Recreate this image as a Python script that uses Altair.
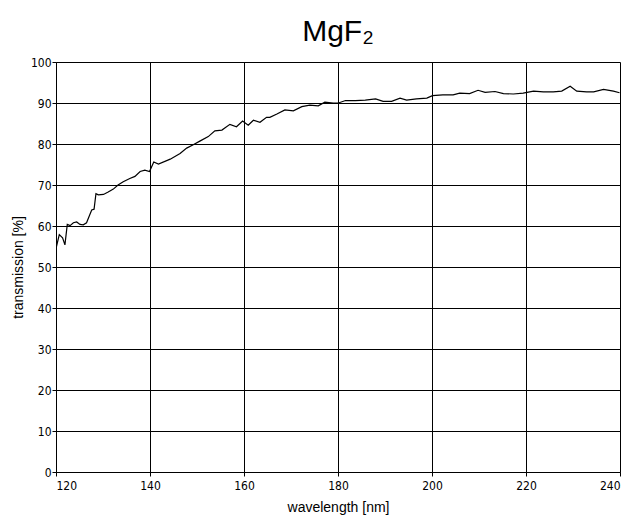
import altair as alt
import pandas as pd

wavelength = [120.1, 120.7, 121.4, 121.9, 122.4, 123.0, 123.7, 124.4, 125.1, 125.8, 126.5, 127.1,
              127.6, 128.1, 128.5, 129.0, 130.1, 131.1, 132.2, 133.2, 134.3, 135.7, 136.8, 137.9,
              138.9, 139.9, 140.8, 141.8, 144.3, 146.4, 147.8, 149.2, 150.6, 152.4, 153.8, 155.3,
              157.0, 158.4, 159.7, 160.9, 162.0, 163.4, 164.8, 165.5, 167.0, 168.7, 170.5, 172.3,
              174.0, 175.8, 177.2, 179.0, 180.1, 181.6, 183.7, 185.8, 188.0, 189.6, 191.4, 193.2,
              194.6, 196.7, 198.9, 200.1, 202.3, 204.5, 205.9, 208.0, 209.8, 211.3, 213.4, 215.2,
              217.3, 219.4, 221.6, 223.7, 225.8, 227.6, 229.4, 230.8, 232.9, 234.4, 236.5, 238.6,
              239.9]
transmission = [55.0, 57.9, 57.1, 55.4, 60.4, 60.1, 60.8, 61.0, 60.4, 60.3, 60.8, 62.5,
                63.9, 64.1, 67.9, 67.6, 67.7, 68.3, 69.0, 70.0, 70.8, 71.6, 72.1, 73.3,
                73.6, 73.3, 75.6, 75.1, 76.3, 77.7, 79.0, 79.8, 80.7, 81.8, 83.2, 83.4,
                84.8, 84.2, 85.6, 84.6, 85.8, 85.3, 86.5, 86.5, 87.3, 88.3, 88.1, 89.1,
                89.5, 89.3, 90.2, 90.0, 90.0, 90.6, 90.6, 90.7, 91.0, 90.4, 90.4, 91.2,
                90.7, 91.0, 91.2, 91.8, 92.0, 92.0, 92.4, 92.3, 93.1, 92.6, 92.8, 92.3,
                92.2, 92.4, 92.9, 92.7, 92.7, 92.9, 94.1, 92.9, 92.7, 92.7, 93.3, 92.9,
                92.5]

x_ticks = [120, 140, 160, 180, 200, 220, 240]
y_ticks = [0, 10, 20, 30, 40, 50, 60, 70, 80, 90, 100]

df = pd.DataFrame({"wavelength": wavelength, "transmission": transmission})

label_font = "DejaVu Sans Condensed"
title_font = "Liberation Sans"

chart = alt.Chart(df).mark_line(color="black", strokeWidth=1.2).encode(
    x=alt.X("wavelength:Q",
            scale=alt.Scale(domain=[120, 240], nice=False, zero=False),
            axis=alt.Axis(values=x_ticks, title="wavelength [nm]", grid=True,
                          gridColor="black", gridOpacity=1, gridWidth=1,
                          domainColor="black", tickColor="black", tickSize=4,
                          labelFont=label_font, labelFontSize=12, labelColor="black",
                          labelPadding=4, titleFont=title_font, titleFontSize=14,
                          titleFontWeight="normal", titleColor="black", titlePadding=9,
                          labelFlush=True)),
    y=alt.Y("transmission:Q",
            scale=alt.Scale(domain=[0, 100], nice=False),
            axis=alt.Axis(values=y_ticks, title="transmission [%]", grid=True,
                          gridColor="black", gridOpacity=1, gridWidth=1,
                          domainColor="black", tickColor="black", tickSize=4,
                          labelFont=label_font, labelFontSize=12, labelColor="black",
                          labelPadding=1, titleFont=title_font, titleFontSize=14,
                          titleFontWeight="normal", titleColor="black",
                          titleX=-38, titleY=205, titleBaseline="middle", titleAngle=270)),
).properties(
    width=564,
    height=410,
    title=alt.TitleParams("MgF₂", font=title_font, fontSize=30, fontWeight="normal",
                          color="black", anchor="middle", offset=9),
    autosize=alt.AutoSizeParams(type="none"),
    padding={"left": 48, "top": 54, "right": 4, "bottom": 43},
).configure_view(stroke="black", strokeWidth=1).configure(background="white")

chart.save("out.html", embed_options={"renderer": "svg", "actions": False})
